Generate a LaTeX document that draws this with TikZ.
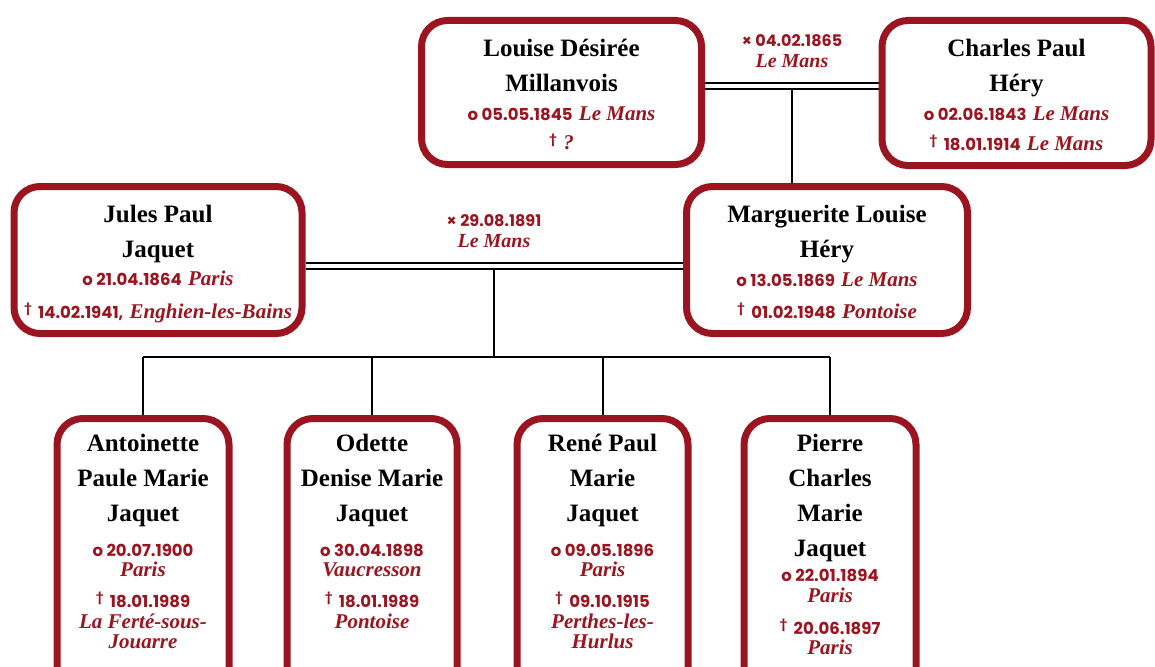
\documentclass[tikz,border=0pt]{standalone}
\usepackage{fontspec}
\setmainfont{Liberation Serif}
\newfontfamily\datefont{Poppins}
\usetikzlibrary{backgrounds}
\definecolor{wine}{RGB}{155,21,32}
% dates, places and the dagger of a person card
\newcommand\dte[1]{{\color{wine}\datefont\bfseries\fontsize{16.5}{20}\selectfont #1}}
\newcommand\plc[1]{{\color{wine}\bfseries\itshape\fontsize{21}{24}\selectfont #1}}
\newcommand\dgr{\raisebox{6pt}{\color{wine}\datefont\bfseries\fontsize{12}{12}\selectfont †}}
\tikzset{
  person/.style={draw=wine, line width=7pt, rounded corners=26pt, fill=white,
    anchor=north, align=center, inner xsep=3pt, inner ysep=11.5pt,
    font=\bfseries\fontsize{25}{35}\selectfont, text depth=3.5pt},
  kid/.style={person, inner ysep=8.5pt, text depth=60pt},
  wedlabel/.style={text=wine, align=center, font=\fontsize{16}{21}\selectfont},
  link/.style={line width=2pt},
  marriage/.style={double, double distance=4.8pt, line width=1.6pt}
}
\begin{document}
\begin{tikzpicture}[x=1pt,y=-1pt]
\useasboundingbox (0,0) rectangle (1155,666);
% grandparents
\node[person, minimum width=280pt] (louise) at (561.5,17)
  {\strut Louise Désirée\\ Millanvois\\[-6pt] \dte{o 05.05.1845} \plc{Le Mans}\\[-6pt] \dgr{} \plc{?}};
\node[person, minimum width=269pt] (charles) at (1016.5,17)
  {\strut Charles Paul\\ Héry\\[-6pt] \dte{o 02.06.1843} \plc{Le Mans}\\[-5pt] \dgr{} \dte{18.01.1914} \plc{Le Mans}};
% parents
\node[person, minimum width=288pt] (jules) at (158,183)
  {\strut Jules Paul\\ Jaquet\\[-7pt] \dte{o 21.04.1864} \plc{Paris}\\[-2pt] \dgr{} \dte{14.02.1941,} \plc{Enghien-les-Bains}};
\node[person, minimum width=281pt] (marguerite) at (827,183)
  {\strut Marguerite Louise\\ Héry\\[-6pt] \dte{o 13.05.1869} \plc{Le Mans}\\[-3pt] \dgr{} \dte{01.02.1948} \plc{Pontoise}};
% children
\node[kid, minimum width=172pt] (antoinette) at (143,415)
  {\strut Antoinette\\ Paule Marie\\ Jaquet\\ \dte{o 20.07.1900}\\[-15pt] \plc{Paris}\\[-4pt]
   \dgr{} \dte{18.01.1989}\\[-14pt] \plc{La Ferté-sous-}\\[-15pt] \plc{Jouarre}};
\node[kid, minimum width=170pt] (odette) at (372,415)
  {\strut Odette\\ Denise Marie\\ Jaquet\\ \dte{o 30.04.1898}\\[-15pt] \plc{Vaucresson}\\[-4pt]
   \dgr{} \dte{18.01.1989}\\[-14pt] \plc{Pontoise}};
\node[kid, minimum width=171pt] (rene) at (602.5,415)
  {\strut René Paul\\ Marie\\ Jaquet\\ \dte{o 09.05.1896}\\[-15pt] \plc{Paris}\\[-4pt]
   \dgr{} \dte{09.10.1915}\\[-14pt] \plc{Perthes-les-}\\[-15pt] \plc{Hurlus}};
\node[kid, minimum width=172pt] (pierre) at (830,415)
  {\strut Pierre\\ Charles\\ Marie\\ Jaquet\\[-10pt] \dte{o 22.01.1894}\\[-14pt] \plc{Paris}\\[-3pt]
   \dgr{} \dte{20.06.1897}\\[-15pt] \plc{Paris}};
% marriages
\node[wedlabel] (wed1) at (792,51)
  {{\datefont\bfseries × 04.02.1865}\\ {\bfseries\itshape\fontsize{20}{20}\selectfont Le Mans}};
\node[wedlabel] (wed2) at (494,231)
  {{\datefont\bfseries × 29.08.1891}\\ {\bfseries\itshape\fontsize{20}{20}\selectfont Le Mans}};
\coordinate (m1) at (792,86);
\coordinate (m2) at (494,266);
\coordinate (bar) at (494,357);
\begin{pgfonlayer}{background}
\draw[link] (m1) -- (m1 |- marguerite.north);
\draw[marriage] (louise.east |- m1) -- (charles.west |- m1);
\draw[link] (m2) -- (bar);
\draw[marriage] (jules.east |- m2) -- (marguerite.west |- m2);
\draw[link] (antoinette.north |- bar) -- (pierre.north |- bar);
\foreach \k in {antoinette,odette,rene,pierre}
  \draw[link] (\k.north |- bar) -- (\k.north);
\end{pgfonlayer}
\end{tikzpicture}
\end{document}
